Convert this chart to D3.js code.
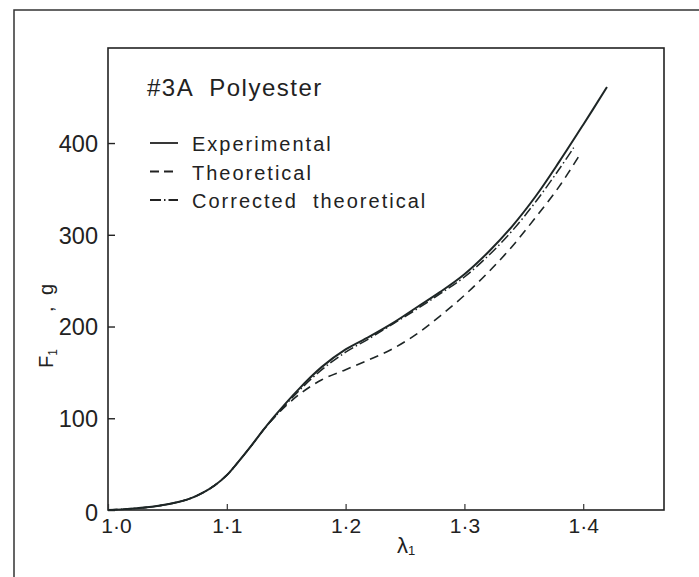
<!DOCTYPE html>
<html lang="en">
	<head>
		<meta charset="utf-8">
		<title>Polyester F1 vs lambda1</title>
		<script type="text/javascript" src="https://cdn.jsdelivr.net/npm/d3@7"></script>
		<style type="text/css">
			body { margin:0; background:#fff; }
			text { font-family:"Liberation Sans", Arial, sans-serif; fill:#222; }
		</style>
	</head>
	<body>
		<script type="text/javascript">

			// data
			var lamExp  = [1.00,1.02,1.04,1.06,1.07,1.08,1.09,1.10,1.11,1.12,1.13,1.14,1.16,1.18,1.20,1.22,1.24,1.26,1.28,1.30,1.32,1.34,1.36,1.38,1.40,1.42];
			var fExp    = [0,1.5,4,9,13,19,27,38,53,69,86,102,131,156,175,189,204,221,238,257,281,309,342,380,420,461];

			var lamTheo = [1.00,1.02,1.04,1.06,1.07,1.08,1.09,1.10,1.11,1.12,1.13,1.14,1.16,1.18,1.20,1.22,1.24,1.26,1.28,1.30,1.32,1.34,1.36,1.38,1.397];
			var fTheo   = [0,1.5,4,9,13,19,27,38,53,69,86,101,125,142,153,164,176,192,212,234,259,287,319,353,387];

			var lamCorr = [1.00,1.02,1.04,1.06,1.07,1.08,1.09,1.10,1.11,1.12,1.13,1.14,1.16,1.18,1.20,1.22,1.24,1.26,1.28,1.30,1.32,1.34,1.36,1.38,1.392];
			var fCorr   = [0,1.5,4,9,13,19,27,38,53,69,86,101,129,153,172,187,203,219,236,254,277,304,336,372,395];

			var xTicks = [1.0,1.1,1.2,1.3,1.4];
			var yTicks = [0,100,200,300,400];
			var legendNames = ["Experimental","Theoretical","Corrected theoretical"];

			var w = 699, h = 577;
			// plot box edges (px)
			var boxL = 108, boxR = 664, boxT = 48, boxB = 510;

			var svg = d3.select("body").append("svg")
						.attr("width", w)
						.attr("height", h);

			// outer page frame
			svg.append("path")
				.attr("d", "M14," + h + " L14,10 L" + w + ",10")
				.attr("fill", "none").attr("stroke", "#333").attr("stroke-width", 1.5);

			var x = d3.scaleLinear().domain([1.0, 1.468]).range([boxL, boxR]);
			var y = d3.scaleLinear().domain([0, 503.6]).range([boxB, boxT]);

			// plot box
			svg.append("rect")
				.attr("x", boxL).attr("y", boxT)
				.attr("width", boxR - boxL).attr("height", boxB - boxT)
				.attr("fill", "none").attr("stroke", "#222").attr("stroke-width", 1.6);

			var fmt = function(d){ return d3.format(".1f")(d).replace(".", "\u00b7"); };

			var xAxis = svg.append("g")
				.attr("transform", "translate(0," + boxB + ")")
				.call(d3.axisBottom(x).tickValues(xTicks).tickFormat(fmt).tickSize(-6).tickPadding(8));
			xAxis.select(".domain").remove();
			xAxis.selectAll("line").attr("stroke", "#333").attr("stroke-width", 1.2);
			xAxis.selectAll("text").attr("font-size", 21).attr("fill", "#222")
				.attr("dx", function(d){ return d === 1.0 ? 8 : 0; });

			var yAxis = svg.append("g")
				.attr("transform", "translate(" + boxL + ",0)")
				.call(d3.axisLeft(y).tickValues(yTicks).tickSize(-7).tickPadding(10));
			yAxis.select(".domain").remove();
			yAxis.selectAll("line").attr("stroke", "#222").attr("stroke-width", 1.4);
			yAxis.selectAll("text").attr("font-size", 23.5).attr("fill", "#222")
				.attr("dy", function(d){ return d === 0 ? "0.45em" : "0.35em"; });

			// axis titles
			var xl = svg.append("text")
				.attr("x", 406).attr("y", 553)
				.attr("text-anchor", "middle").attr("font-size", 22);
			xl.append("tspan").text("\u03bb");
			xl.append("tspan").text("1").attr("font-size", 13).attr("dy", 2);

			var yl = svg.append("text")
				.attr("transform", "translate(53,368) rotate(-90)")
				.attr("font-size", 20);
			yl.append("tspan").attr("x", 0).text("F");
			yl.append("tspan").text("1").attr("font-size", 12).attr("dy", 4);
			yl.append("tspan").attr("x", 56).attr("dy", -4).text(",");
			yl.append("tspan").attr("x", 73).text("g");

			var line = d3.line()
				.x(function(d){ return x(d[0]); })
				.y(function(d){ return y(d[1]); })
				.curve(d3.curveCatmullRom.alpha(0.5));

			var series = [
				{ pts: d3.zip(lamTheo, fTheo), dash: "9,6", sw: 1.6 },
				{ pts: d3.zip(lamCorr, fCorr), dash: "10,3,1.5,3", sw: 1.5 },
				{ pts: d3.zip(lamExp, fExp), dash: null, sw: 2 }
			];

			svg.selectAll("path.curve")
				.data(series)
				.enter()
				.append("path")
				.attr("class", "curve")
				.attr("d", function(d){ return line(d.pts); })
				.attr("fill", "none")
				.attr("stroke", "#1e2626")
				.attr("stroke-width", function(d){ return d.sw; })
				.attr("stroke-dasharray", function(d){ return d.dash; });

			// title and legend
			svg.append("text")
				.attr("x", 147).attr("y", 96)
				.attr("font-size", 24).attr("letter-spacing", 1.5)
				.style("white-space", "pre")
				.text("#3A  Polyester");

			var legDash = [null, "9,5", "11,3,1.5,3"];
			var leg = svg.selectAll("g.leg")
				.data(legendNames)
				.enter()
				.append("g")
				.attr("class", "leg")
				.attr("transform", function(d, i){ return "translate(150," + (151 + i * 28.5) + ")"; });

			leg.append("line")
				.attr("x1", 0).attr("x2", 28)
				.attr("y1", -8).attr("y2", -8)
				.attr("stroke", "#222").attr("stroke-width", 1.8)
				.attr("stroke-dasharray", function(d, i){ return legDash[i]; });

			leg.append("text")
				.attr("x", 42).attr("y", 0)
				.attr("font-size", 20).attr("letter-spacing", 2)
				.style("white-space", "pre")
				.text(function(d){ return d.replace(" ", "  "); });

		</script>
	</body>
</html>
